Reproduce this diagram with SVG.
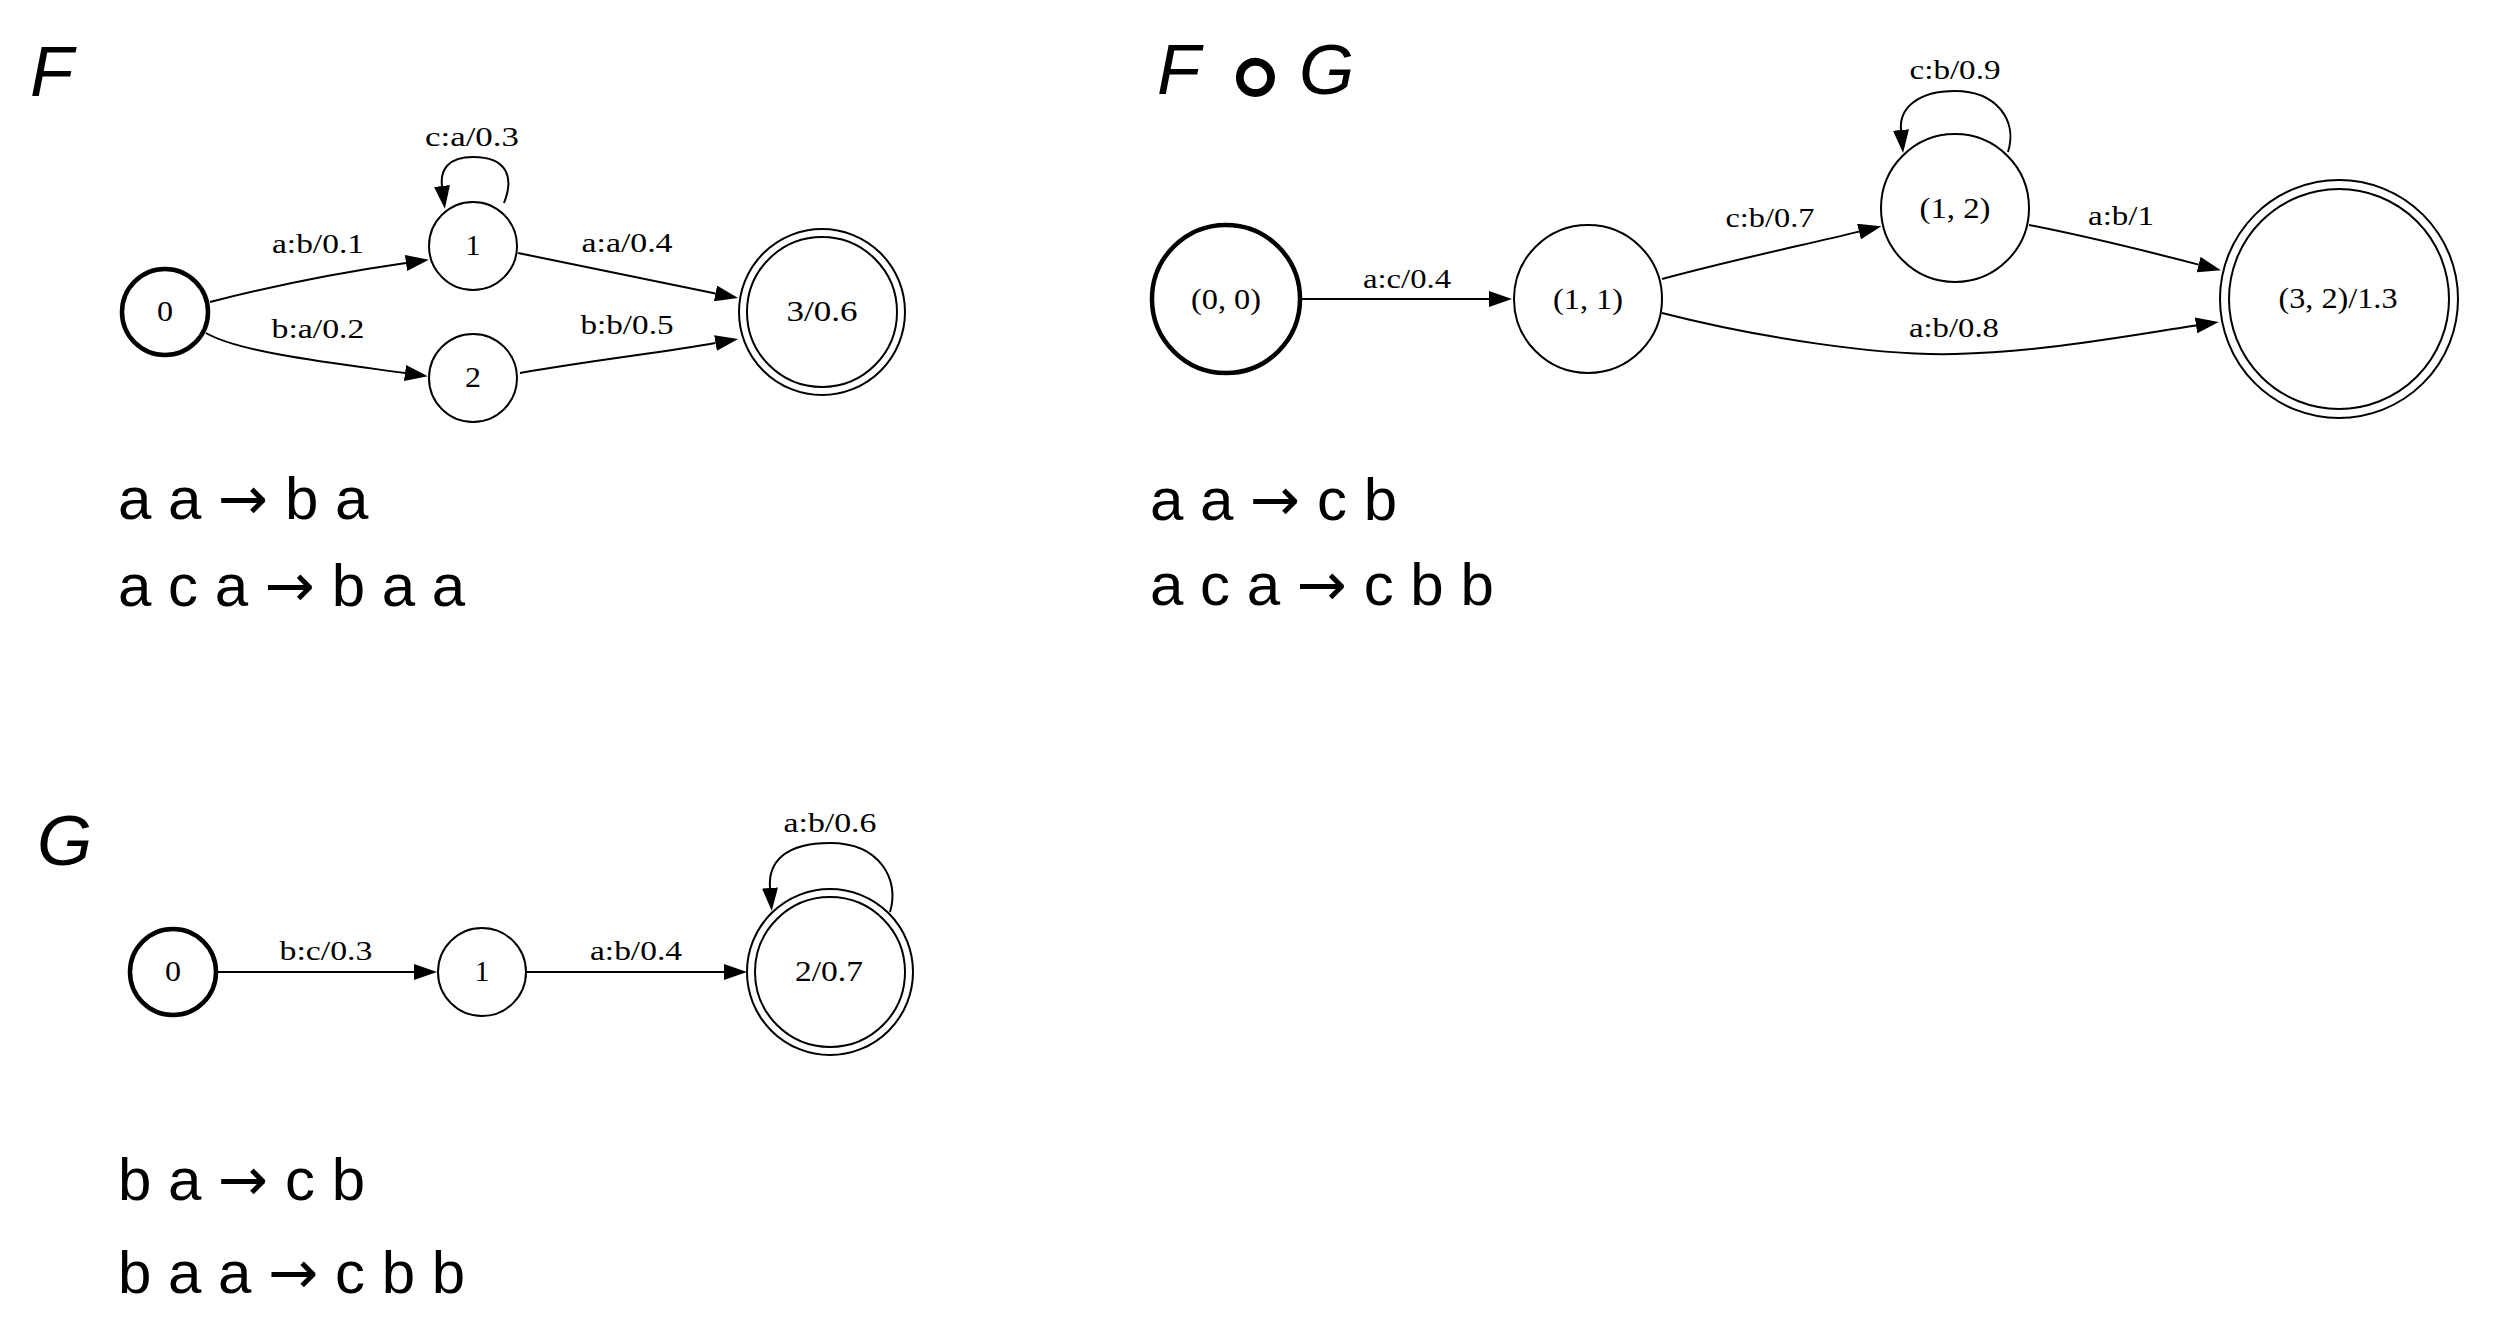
<svg xmlns="http://www.w3.org/2000/svg" width="2500" height="1326" viewBox="0 0 2500 1326">
<style>
.n{fill:none;stroke:#000;stroke-width:2}
.b{stroke-width:4.5}
.e{fill:none;stroke:#000;stroke-width:2;marker-end:url(#arr)}
.l{font-family:"Liberation Serif","Times New Roman",serif;font-size:28px;text-anchor:middle;fill:#000}
.nl{font-size:30px}
.t{font-family:"Liberation Sans",Arial,sans-serif;font-style:italic;font-size:71px;fill:#000}
.r{font-family:"Liberation Sans",Arial,sans-serif;font-size:60px;fill:#000}
.ar{font-family:"DejaVu Sans",sans-serif}
</style>
<defs>
<marker id="arr" viewBox="0 0 23 16" markerWidth="23" markerHeight="16" refX="0" refY="8" orient="auto" markerUnits="userSpaceOnUse"><path d="M0,0 L23,8 L0,16 z" fill="#000"/></marker>
</defs>
<rect width="2500" height="1326" fill="#fff"/>

<!-- Titles and rules -->
<text class="t" x="30" y="96">F</text>
<text class="t" x="37" y="865">G</text>
<text class="t"><tspan x="1157" y="94">F</tspan><tspan x="1216" y="117" style="font-style:normal;font-family:'DejaVu Sans',sans-serif;font-size:126px">∘</tspan><tspan x="1299" y="94">G</tspan></text>

<text class="r" x="118" y="519">a a <tspan class="ar">→</tspan> b a</text>
<text class="r" x="118" y="606">a c a <tspan class="ar">→</tspan> b a a</text>
<text class="r" x="1150" y="520">a a <tspan class="ar">→</tspan> c b</text>
<text class="r" x="1150" y="605">a c a <tspan class="ar">→</tspan> c b b</text>
<text class="r" x="118" y="1200">b a <tspan class="ar">→</tspan> c b</text>
<text class="r" x="118" y="1293">b a a <tspan class="ar">→</tspan> c b b</text>

<!-- Connectors -->
<g id="edges">
<path class="e" d="M210,302 C280,284 350,271 406,263"/>
<path class="e" d="M206,333 C240,353 340,364 405,373"/>
<path class="e" d="M518,253 L715.5,293.4"/>
<path class="e" d="M520,373 C600,359 660,353 715.5,343"/>
<path class="e" d="M504,203 C514,178 508,157 473,157 C448,157 440,170 442,186"/>
<text class="l" x="318" y="253" textLength="92" lengthAdjust="spacingAndGlyphs">a:b/0.1</text>
<text class="l" x="318" y="338" textLength="93" lengthAdjust="spacingAndGlyphs">b:a/0.2</text>
<text class="l" x="472" y="146" textLength="94" lengthAdjust="spacingAndGlyphs">c:a/0.3</text>
<text class="l" x="627" y="252" textLength="91" lengthAdjust="spacingAndGlyphs">a:a/0.4</text>
<text class="l" x="627" y="334" textLength="93" lengthAdjust="spacingAndGlyphs">b:b/0.5</text>

<path class="e" d="M218,972 L414,972"/>
<path class="e" d="M527,972 L724,972"/>
<path class="e" d="M890,912 C900,880 880,843 830,843 C785,843 768,862 770,888"/>
<text class="l" x="326" y="960" textLength="93" lengthAdjust="spacingAndGlyphs">b:c/0.3</text>
<text class="l" x="636" y="960" textLength="92" lengthAdjust="spacingAndGlyphs">a:b/0.4</text>
<text class="l" x="830" y="832" textLength="93" lengthAdjust="spacingAndGlyphs">a:b/0.6</text>

<path class="e" d="M1302,299 L1489,299"/>
<path class="e" d="M1662,279 C1740,258 1800,246 1859,231.6"/>
<path class="e" d="M2029,225 C2090,237 2150,252 2198.6,264.6"/>
<path class="e" d="M1662,313 C1760,338 1880,356 1955,354 C2040,352 2120,337 2196,325.4"/>
<path class="e" d="M2008,152 C2018,120 1996,91 1955,91 C1918,91 1899,108 1901,130"/>
<text class="l" x="1407" y="288" textLength="88" lengthAdjust="spacingAndGlyphs">a:c/0.4</text>
<text class="l" x="1770" y="227" textLength="89" lengthAdjust="spacingAndGlyphs">c:b/0.7</text>
<text class="l" x="1955" y="79" textLength="91" lengthAdjust="spacingAndGlyphs">c:b/0.9</text>
<text class="l" x="1954" y="337" textLength="90" lengthAdjust="spacingAndGlyphs">a:b/0.8</text>
<text class="l" x="2121" y="225" textLength="66" lengthAdjust="spacingAndGlyphs">a:b/1</text>
</g>

<!-- F nodes -->
<g id="F0"><circle class="n b" cx="165" cy="312" r="43"/><text class="l nl" x="165" y="321" textLength="16" lengthAdjust="spacingAndGlyphs">0</text></g>
<g id="F1"><circle class="n" cx="473" cy="246" r="44"/><text class="l nl" x="473" y="255" textLength="15" lengthAdjust="spacingAndGlyphs">1</text></g>
<g id="F2"><circle class="n" cx="473" cy="378" r="44"/><text class="l nl" x="473" y="387" textLength="16" lengthAdjust="spacingAndGlyphs">2</text></g>
<g id="F3"><circle class="n" cx="822" cy="312" r="83"/><circle class="n" cx="822" cy="312" r="75"/><text class="l nl" x="822" y="321" textLength="71" lengthAdjust="spacingAndGlyphs">3/0.6</text></g>

<!-- G nodes -->
<g id="G0"><circle class="n b" cx="173" cy="972" r="43"/><text class="l nl" x="173" y="981" textLength="16" lengthAdjust="spacingAndGlyphs">0</text></g>
<g id="G1"><circle class="n" cx="482" cy="972" r="44"/><text class="l nl" x="482" y="981" textLength="15" lengthAdjust="spacingAndGlyphs">1</text></g>
<g id="G2"><circle class="n" cx="830" cy="972" r="83"/><circle class="n" cx="830" cy="972" r="75"/><text class="l nl" x="829" y="981" textLength="68" lengthAdjust="spacingAndGlyphs">2/0.7</text></g>

<!-- FoG nodes -->
<g id="FG00"><circle class="n b" cx="1226" cy="299" r="74"/><text class="l nl" x="1226" y="309" textLength="70" lengthAdjust="spacingAndGlyphs">(0, 0)</text></g>
<g id="FG11"><circle class="n" cx="1588" cy="299" r="74"/><text class="l nl" x="1588" y="309" textLength="70" lengthAdjust="spacingAndGlyphs">(1, 1)</text></g>
<g id="FG12"><circle class="n" cx="1955" cy="208" r="74"/><text class="l nl" x="1955" y="218" textLength="71" lengthAdjust="spacingAndGlyphs">(1, 2)</text></g>
<g id="FG32"><circle class="n" cx="2339" cy="299" r="119"/><circle class="n" cx="2339" cy="299" r="110"/><text class="l nl" x="2338" y="308" textLength="119" lengthAdjust="spacingAndGlyphs">(3, 2)/1.3</text></g>
</svg>
